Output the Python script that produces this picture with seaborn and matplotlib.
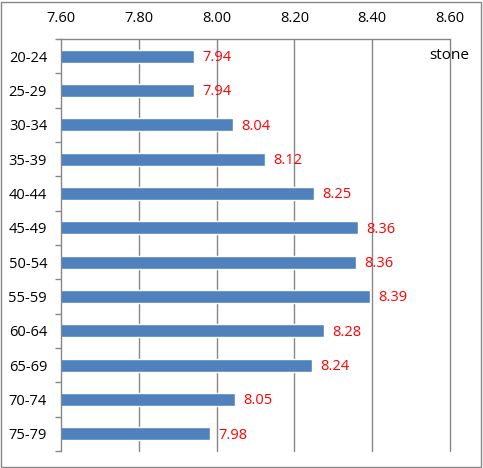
import matplotlib
matplotlib.use("Agg")
import matplotlib.pyplot as plt
import seaborn as sns
import pandas as pd
import numpy as np
from matplotlib.patches import Rectangle

categories = ["20-24", "25-29", "30-34", "35-39", "40-44", "45-49",
              "50-54", "55-59", "60-64", "65-69", "70-74", "75-79"]
values = [7.942, 7.941, 8.043, 8.124, 8.251, 8.363,
          8.359, 8.394, 8.277, 8.244, 8.047, 7.983]
labels = ["7.94", "7.94", "8.04", "8.12", "8.25", "8.36",
          "8.36", "8.39", "8.28", "8.24", "8.05", "7.98"]
xticks = [7.60, 7.80, 8.00, 8.20, 8.40, 8.60]
unit = "stone"

sns.set_theme(style="white")
plt.rcParams["font.family"] = ["Open Sans", "DejaVu Sans"]
FS = 10.5

df = pd.DataFrame({"age": categories, "val": values})

fig = plt.figure(figsize=(4.83, 4.68), dpi=100)
ax = fig.add_axes([61/483, 1 - 451/468, (450-61)/483, (451-39)/468])

sns.barplot(data=df, y="age", x="val", orient="h", color="#4F81BD",
            saturation=1, width=0.38, ax=ax, zorder=2)

ax.set_xlim(7.60, 8.60)
ax.set_ylim(11.5, -0.5)
ax.set_xticks(xticks)
ax.set_xticklabels([f"{t:.2f}" for t in xticks], fontsize=FS, color="#000000")
ax.xaxis.tick_top()
ax.tick_params(axis="x", length=0, pad=9)
ax.set_xlabel("")
ax.set_ylabel("")
ax.tick_params(axis="y", length=0, pad=10, labelsize=FS, labelcolor="#000000")
ax.set_yticks(np.arange(-0.5, 12, 1), minor=True)
ax.tick_params(axis="y", which="minor", length=4, color="#878787", width=1, left=True)

for x in xticks[1:]:
    ax.axvline(x, color="#878787", lw=1, zorder=0, clip_on=False)

for s in ["right", "bottom"]:
    ax.spines[s].set_visible(False)
for s in ["left", "top"]:
    ax.spines[s].set_visible(True)
    ax.spines[s].set_color("#878787")
    ax.spines[s].set_linewidth(1)

for i, (v, lab) in enumerate(zip(values, labels)):
    ax.annotate(lab, xy=(v, i), xytext=(6, -1), textcoords="offset points",
                va="center", ha="left", color="#FF0000", fontsize=FS, zorder=3)

ax.text(0.997, 0.961, unit, transform=ax.transAxes, ha="center", va="center",
        fontsize=FS + 0.5, color="#000000", clip_on=False)

fig.patches.append(Rectangle((1/483, 1/468), 480/483, 465/468, transform=fig.transFigure,
                             fill=False, edgecolor="#878787", lw=1))

fig.savefig("out.png", dpi=100)
